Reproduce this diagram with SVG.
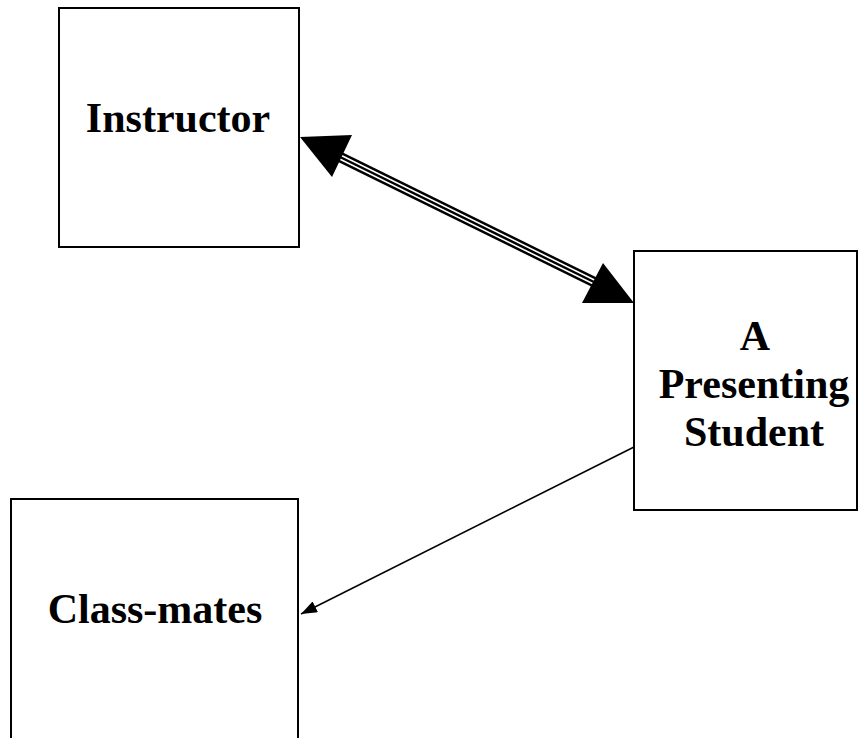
<svg xmlns="http://www.w3.org/2000/svg" width="865" height="738" viewBox="0 0 865 738">
<style>
.box{fill:#fff;stroke:#000;stroke-width:2}
.lbl{font-family:"Liberation Serif","Times New Roman",serif;font-weight:bold;font-size:42px;fill:#000;text-anchor:middle}
</style>
<defs>
<marker id="small" viewBox="0 0 16 12" refX="16" refY="6" markerWidth="16" markerHeight="12" markerUnits="userSpaceOnUse" orient="auto">
<path d="M0,0 L16,6 L0,12 z" fill="#000"/>
</marker>
</defs>
<rect width="865" height="738" fill="#fff"/>
<g id="instructor">
<rect class="box" x="59" y="8" width="240" height="239"/>
<text class="lbl" x="178" y="132">Instructor</text>
</g>
<g id="student">
<rect class="box" x="634" y="251" width="223" height="259"/>
<text class="lbl" x="755" y="350">A</text>
<text class="lbl" x="754" y="398">Presenting</text>
<text class="lbl" x="754" y="446">Student</text>
</g>
<g id="classmates">
<rect class="box" x="11" y="499" width="287" height="250"/>
<text class="lbl" x="155" y="623">Class-mates</text>
</g>
<g id="connectors">
<g>
<line x1="338" y1="156" x2="596" y2="283" stroke="#000" stroke-width="10.5"/>
<line x1="336" y1="155" x2="598" y2="284" stroke="#fff" stroke-width="5.6"/>
<line x1="336" y1="155" x2="598" y2="284" stroke="#000" stroke-width="2.4"/>
<polygon points="300,137 352,135 332,177" fill="#000"/>
<polygon points="634,303 603,263 582,303" fill="#000"/>
</g>
<line x1="634" y1="447" x2="301" y2="614" stroke="#000" stroke-width="1.5" marker-end="url(#small)"/>
</g>
</svg>
